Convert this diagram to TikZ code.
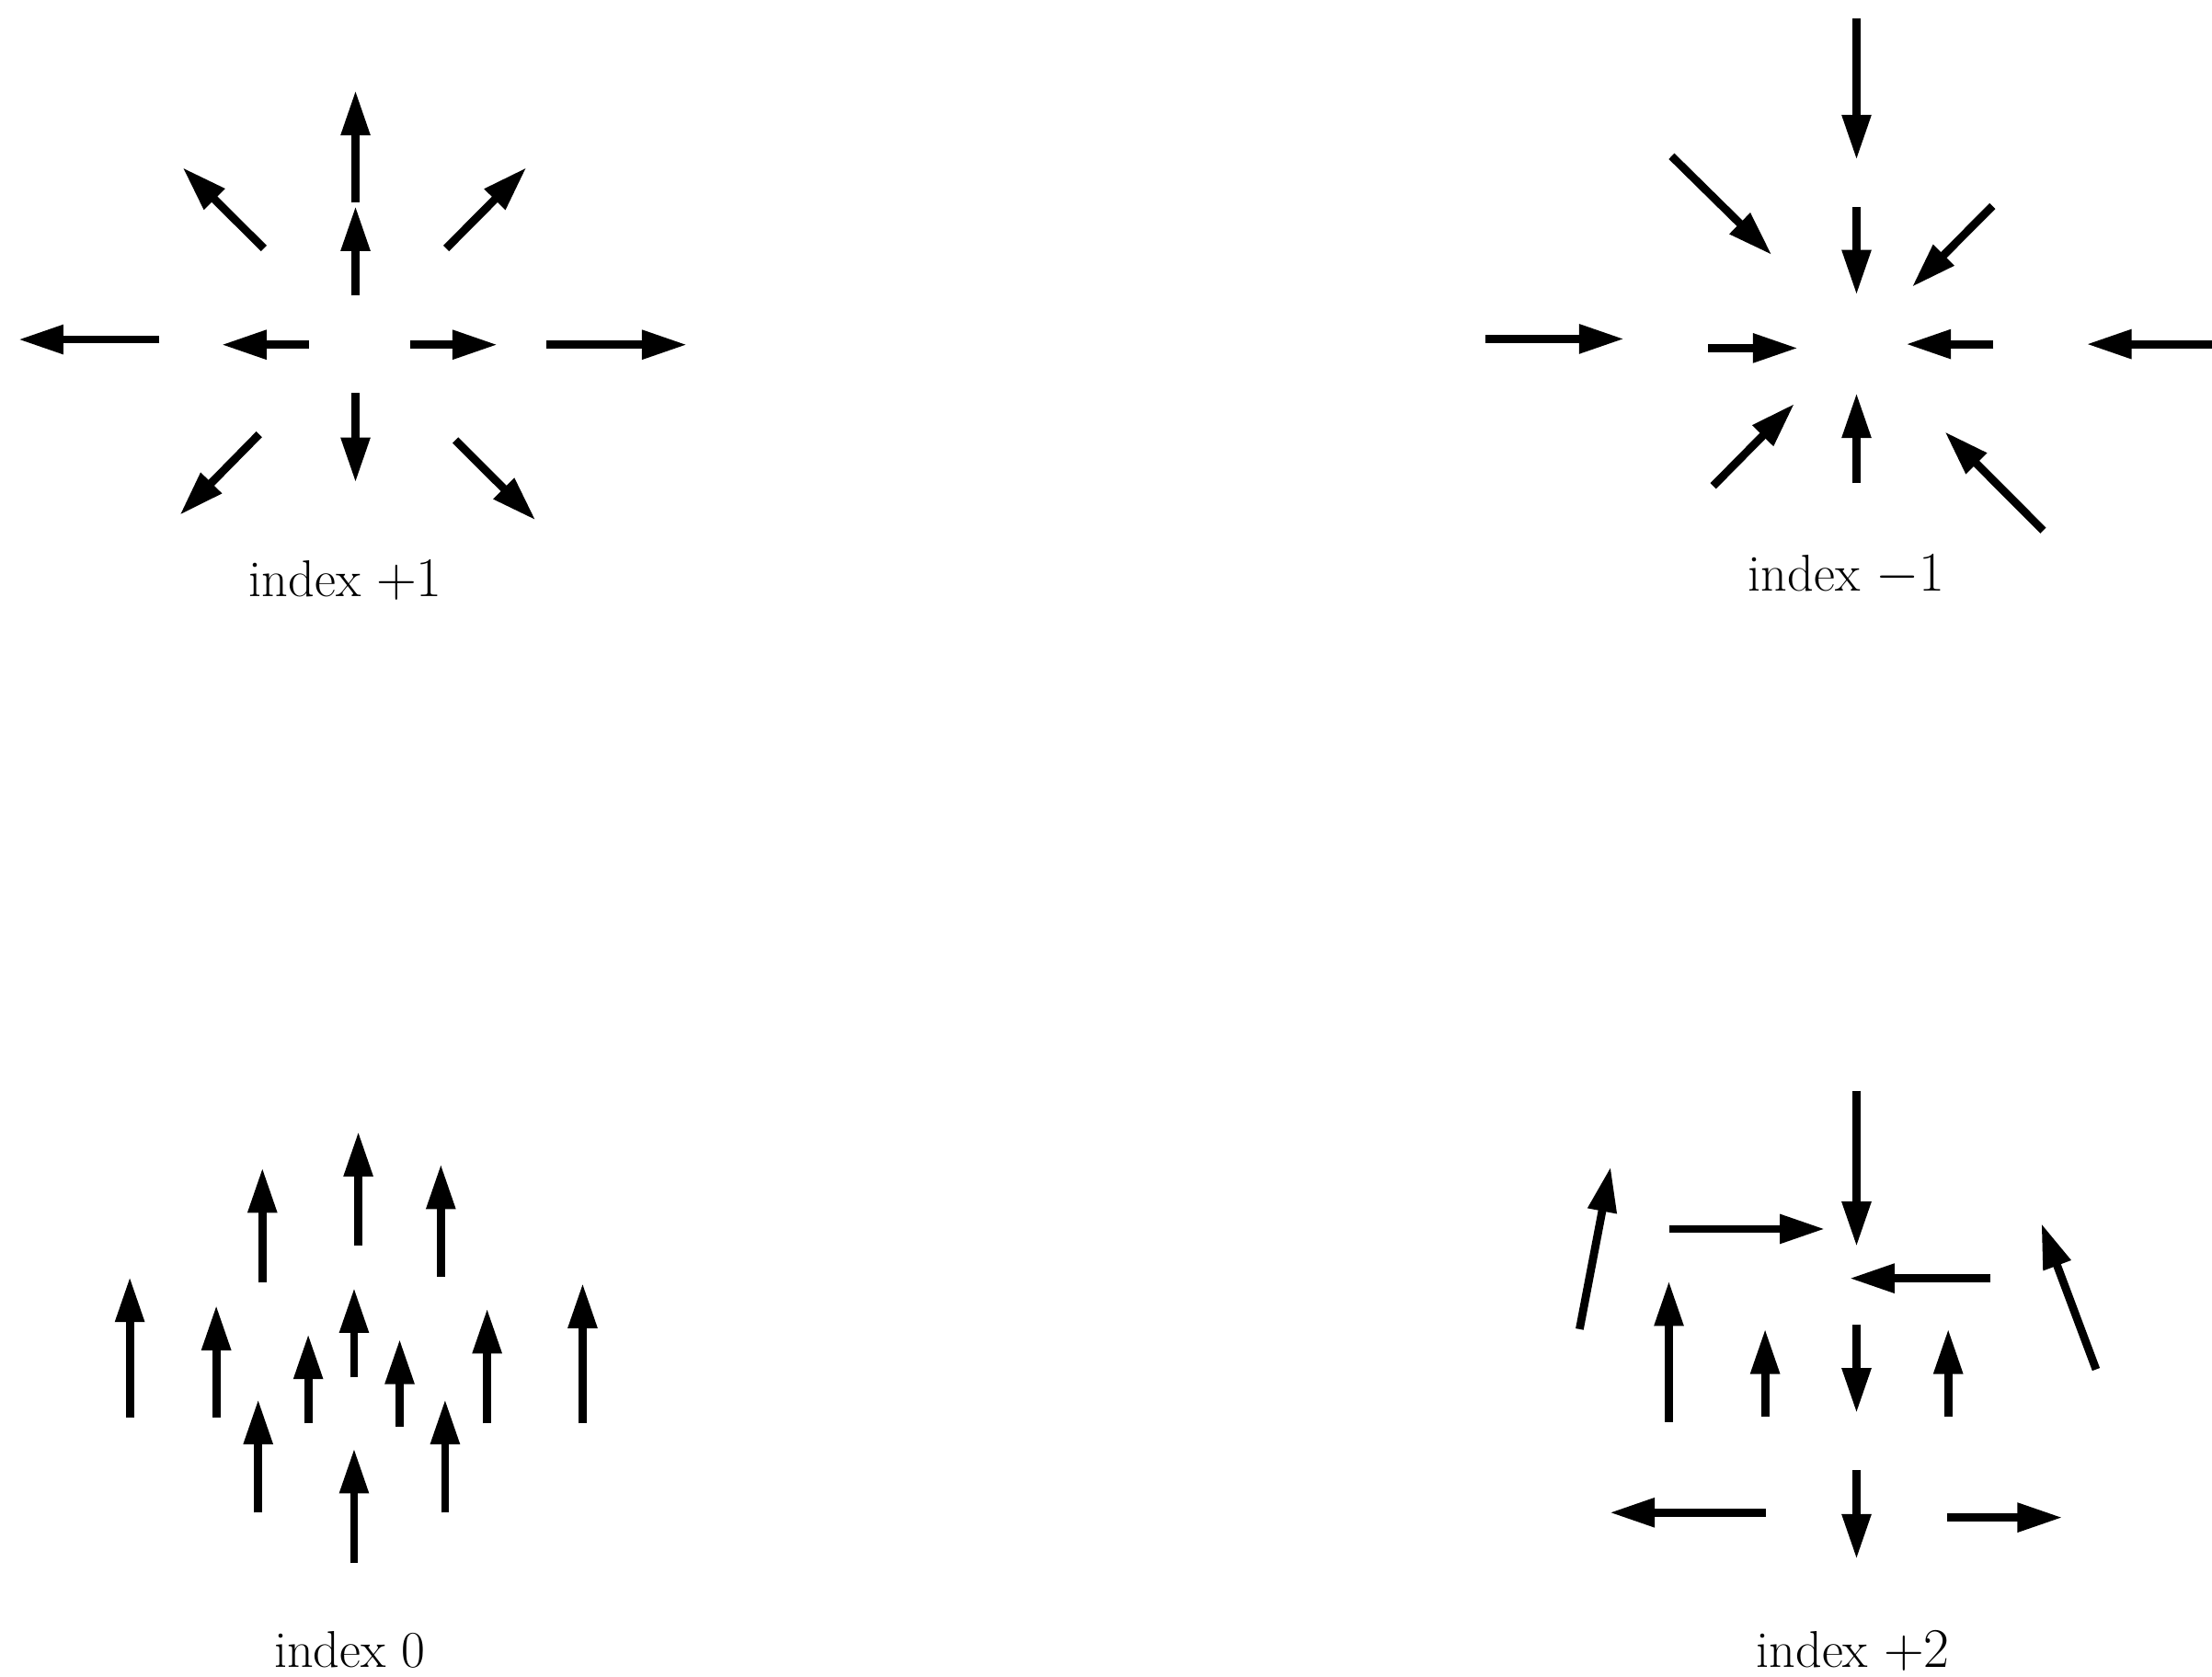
\documentclass[tikz,border=0pt]{standalone}
\usetikzlibrary{arrows.meta}
\begin{document}
\begin{tikzpicture}[x=0.015338cm,y=-0.015338cm,
  vec/.style={line width=2.5pt,-{Triangle[length=0.49cm,width=0.3cm]}},
  lab/.style={anchor=base,inner sep=0pt,font=\fontsize{16}{19}\selectfont}]
\useasboundingbox (0,0) rectangle (1568,1188);
% ---------- index +1 ----------
\draw[vec] (252,143.6) -- (252,64);
\draw[vec] (252,209.5) -- (252,146);
\draw[vec] (187,176) -- (129.4,118.7);
\draw[vec] (316.3,176) -- (373.2,118.7);
\draw[vec] (113.1,240.6) -- (13,240.6);
\draw[vec] (218.8,244.3) -- (157,244.3);
\draw[vec] (291,244.3) -- (352.7,244.3);
\draw[vec] (387.5,244.3) -- (487,244.3);
\draw[vec] (252,278.7) -- (252,342);
\draw[vec] (183.7,307.8) -- (127.4,365);
\draw[vec] (322.8,312) -- (379.7,368.7);
\node[lab] (l1) at (245,423) {index $+1$};
% ---------- index -1 ----------
\draw[vec] (1316,13) -- (1316,113.3);
\draw[vec] (1316,146.7) -- (1316,209);
\draw[vec] (1184.9,110.7) -- (1256,180.7);
\draw[vec] (1412.4,146) -- (1355.3,203.4);
\draw[vec] (1053,240.2) -- (1151.3,240.2);
\draw[vec] (1211,246.7) -- (1274.5,246.7);
\draw[vec] (1413,243.9) -- (1351,243.9);
\draw[vec] (1572,243.9) -- (1479,243.9);
\draw[vec] (1214.4,344.4) -- (1272,286.1);
\draw[vec] (1316,342.6) -- (1316,278.5);
\draw[vec] (1448.3,376) -- (1378.5,305.9);
\node[lab] (l2) at (1309,419) {index $-1$};
% ---------- index 0 ----------
\draw[vec] (92,1004.5) -- (92,905);
\draw[vec] (153.3,1004.5) -- (153.3,925);
\draw[vec] (186,909) -- (186,827.6);
\draw[vec] (254,883) -- (254,801.9);
\draw[vec] (312.5,905) -- (312.5,825);
\draw[vec] (218.5,1008.8) -- (218.5,945.5);
\draw[vec] (251,976.3) -- (251,912.7);
\draw[vec] (283.3,1011) -- (283.3,949);
\draw[vec] (345.3,1008.8) -- (345.3,927.3);
\draw[vec] (413,1008.8) -- (413,909.4);
\draw[vec] (183,1072) -- (183,991.7);
\draw[vec] (315.5,1072) -- (315.5,991.7);
\draw[vec] (251,1108) -- (251,1026.5);
\node[lab] (l3) at (248,1182) {index 0};
% ---------- index +2 ----------
\draw[vec] (1316,773) -- (1316,883.5);
\draw[vec] (1183,871) -- (1293.6,871);
\draw[vec] (1411,906) -- (1311,906);
\draw[vec] (1119.7,942) -- (1141.7,826.9);
\draw[vec] (1485.8,970.5) -- (1447,867);
\draw[vec] (1183,1007.8) -- (1183,907.8);
\draw[vec] (1251.2,1003.7) -- (1251.2,941.8);
\draw[vec] (1316,938.7) -- (1316,1001.5);
\draw[vec] (1381,1003.7) -- (1381,941.8);
\draw[vec] (1251.5,1072) -- (1141,1072);
\draw[vec] (1316,1042) -- (1316,1105);
\draw[vec] (1380,1075.5) -- (1462,1075.5);
\node[lab] (l4) at (1313.5,1181.5) {index $+2$};
\end{tikzpicture}
\end{document}
